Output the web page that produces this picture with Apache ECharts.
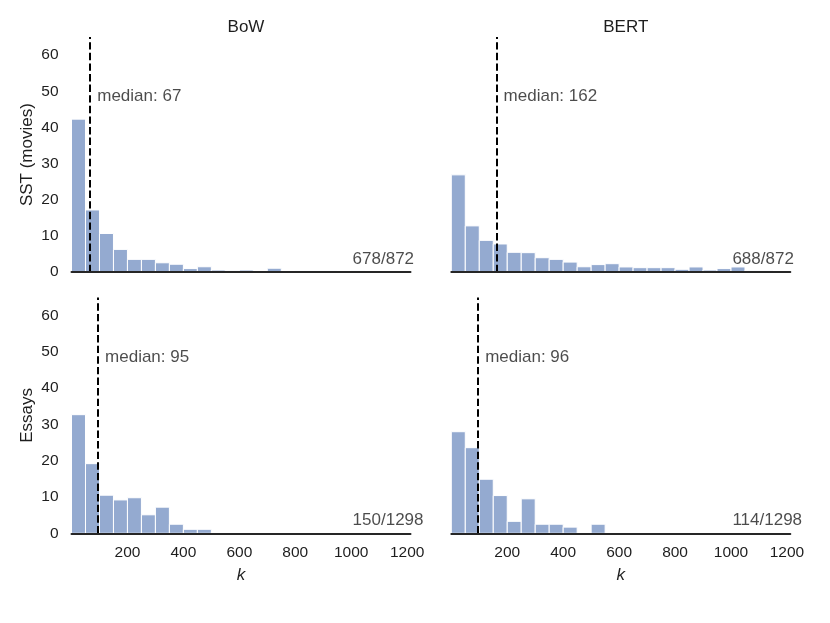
<!DOCTYPE html>
<html>
<head>
<meta charset="utf-8">
<script src="https://cdn.jsdelivr.net/npm/echarts@6/dist/echarts.min.js"></script>
<style>
  html, body { margin: 0; padding: 0; background: #fff; }
  #chart { width: 830px; height: 623px; }
</style>
</head>
<body>
<div id="chart"></div>
<script>
// histogram bins start at 0, each 50 wide
const binWidth = 50
const sstBow = [42.3, 17.2, 10.7, 6.3, 3.55, 3.55, 2.6, 2.2, 1.0, 1.5, 0.6, 0.5, 0.6, 0, 1.1, 0, 0.35, 0.35, 0.35, 0, 0.35]
const sstBert = [26.9, 12.8, 8.8, 7.8, 5.5, 5.4, 4.0, 3.55, 2.8, 1.5, 2.1, 2.35, 1.45, 1.25, 1.25, 1.25, 0.8, 1.45, 0.6, 1.0, 1.45, 0.5, 0.4]
const essaysBow = [32.7, 19.2, 10.5, 9.2, 9.8, 5.1, 7.2, 2.5, 1.1, 1.1]
const essaysBert = [28.0, 23.6, 14.9, 10.4, 3.3, 9.5, 2.5, 2.5, 1.7, 0, 2.5]

const medians = [67, 162, 95, 96]
const kept = [678, 688, 150, 114]
const totals = [872, 872, 1298, 1298]
const colTitles = ['BoW', 'BERT']
const rowNames = ['SST (movies)', 'Essays']
const yTicks = [0, 10, 20, 30, 40, 50, 60]

const font = '"Liberation Sans", Arial, sans-serif'
const textColor = '#1e1e1e'
const barColor = '#94aad0'

const panels = [sstBow, sstBert, essaysBow, essaysBert]
const lefts = [71.5, 451.3]
const tops = [37, 297.5]
const heights = [235.2, 235.8]

function renderBar(params, api) {
    const p0 = api.coord([api.value(0), api.value(2)])
    const p1 = api.coord([api.value(1), 0])
    return {
        type: 'rect',
        shape: {x: p0[0], y: p0[1], width: p1[0] - p0[0], height: p1[1] - p0[1]},
        style: {fill: barColor, stroke: '#fff', lineWidth: 1}
    }
}

const grid = [], xAxis = [], yAxis = [], series = []
panels.forEach((bins, i) => {
    const row = Math.floor(i / 2), col = i % 2
    grid.push({left: lefts[col], top: tops[row], width: 339, height: heights[row], containLabel: false})
    xAxis.push({
        type: 'value', gridIndex: i, min: 0, max: 1212, interval: 200, z: 5,
        name: row === 1 ? 'k' : '', nameLocation: 'middle', nameGap: 33,
        nameTextStyle: {fontFamily: font, fontSize: 17, fontStyle: 'italic', color: textColor},
        axisLine: {lineStyle: {color: '#262626', width: 2}},
        axisTick: {show: false},
        splitLine: {show: false},
        axisLabel: {
            show: row === 1, showMaxLabel: false, margin: 11,
            fontFamily: font, fontSize: 15.5, color: textColor,
            formatter: v => v === 0 ? '' : String(v)
        }
    })
    yAxis.push({
        type: 'value', gridIndex: i, min: 0, max: 65, interval: 10,
        name: col === 0 ? rowNames[row] : '', nameLocation: 'middle', nameGap: 36,
        nameTextStyle: {fontFamily: font, fontSize: 17, color: textColor},
        axisLine: {show: false},
        axisTick: {show: false},
        splitLine: {show: false},
        axisLabel: {
            show: col === 0, margin: 13, showMaxLabel: false,
            fontFamily: font, fontSize: 15.5, color: textColor,
            formatter: v => yTicks.indexOf(v) >= 0 ? String(v) : ''
        }
    })
    series.push({
        type: 'custom', xAxisIndex: i, yAxisIndex: i,
        renderItem: renderBar,
        encode: {x: [0, 1], y: 2},
        data: bins.map((h, j) => [j * binWidth, (j + 1) * binWidth, h]).filter(d => d[2] > 0),
        markLine: {
            silent: true, symbol: 'none', animation: false,
            label: {show: false},
            lineStyle: {color: '#000', width: 2, type: [7.4, 3.2]},
            data: [{xAxis: medians[i]}]
        }
    })
    series.push({
        type: 'scatter', xAxisIndex: i, yAxisIndex: i, symbolSize: 0, silent: true,
        data: [
            {value: [medians[i], 48.5], label: {formatter: 'median: ' + medians[i], distance: 7}},
            {value: [1005, 3.5], label: {formatter: kept[i] + '/' + totals[i], distance: 0}}
        ],
        label: {show: true, position: 'right', fontFamily: font, fontSize: 17, color: textColor}
    })
})

const chart = echarts.init(document.getElementById('chart'))
chart.setOption({
    animation: false,
    backgroundColor: '#fff',
    title: colTitles.map((t, c) => ({
        text: t, left: lefts[c] + 169.5, top: 14, textAlign: 'center',
        textStyle: {fontFamily: font, fontSize: 17, fontWeight: 'normal', color: textColor}
    })),
    grid: grid,
    xAxis: xAxis,
    yAxis: yAxis,
    series: series
})
</script>
</body>
</html>
